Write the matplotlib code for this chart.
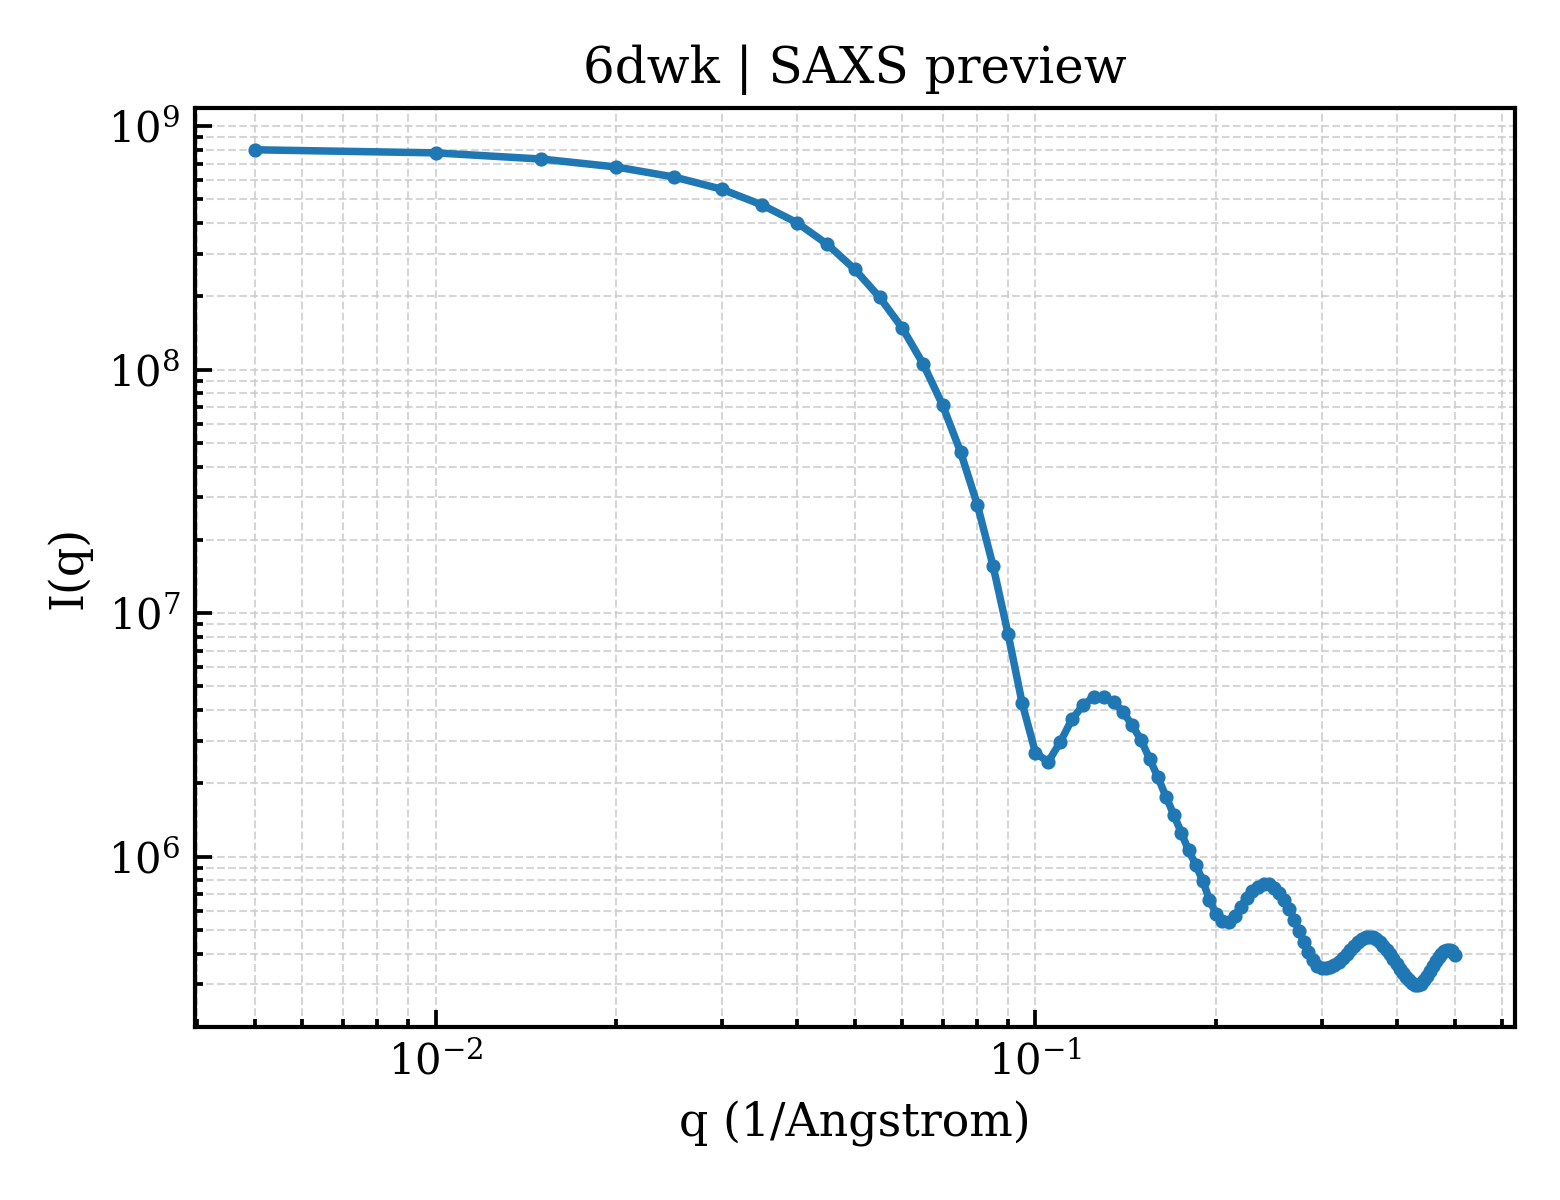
import numpy as np
import matplotlib
matplotlib.use("Agg")
import matplotlib.pyplot as plt

plt.rcParams['font.family'] = ['DejaVu Serif']

# q grid (1/Angstrom), step 0.005
q = np.round(np.arange(1, 101) * 0.005, 3)

# intensities read from the preview
intensity = [
    8.00e8, 7.77e8, 7.33e8, 6.80e8, 6.18e8, 5.51e8, 4.75e8, 4.02e8, 3.27e8, 2.58e8,
    1.98e8, 1.48e8, 1.055e8, 7.16e7, 4.60e7, 2.79e7, 1.56e7, 8.24e6, 4.28e6, 2.67e6,
    2.45e6, 2.96e6, 3.66e6, 4.18e6, 4.53e6, 4.53e6, 4.32e6, 3.93e6, 3.46e6, 3.01e6,
    2.52e6, 2.12e6, 1.765e6, 1.49e6, 1.255e6, 1.061e6, 9.27e5, 7.97e5, 6.66e5, 5.83e5,
    5.46e5, 5.41e5, 5.72e5, 6.23e5, 6.78e5, 7.25e5, 7.53e5, 7.74e5, 7.74e5, 7.46e5,
    7.11e5, 6.66e5, 6.11e5, 5.51e5, 4.97e5, 4.47e5, 4.07e5, 3.77e5, 3.56e5, 3.50e5,
    3.50e5, 3.53e5, 3.60e5, 3.70e5, 3.85e5, 3.99e5, 4.15e5, 4.31e5, 4.47e5, 4.60e5,
    4.67e5, 4.69e5, 4.67e5, 4.58e5, 4.47e5, 4.31e5, 4.15e5, 3.99e5, 3.81e5, 3.63e5,
    3.47e5, 3.34e5, 3.21e5, 3.12e5, 3.03e5, 2.98e5, 2.96e5, 3.01e5, 3.12e5, 3.24e5,
    3.40e5, 3.56e5, 3.74e5, 3.88e5, 3.99e5, 4.11e5, 4.15e5, 4.15e5, 4.11e5, 3.96e5,
]

fig, ax = plt.subplots(figsize=(5.2, 4), dpi=300)
fig.subplots_adjust(left=0.125, right=0.971, bottom=0.144, top=0.91)

ax.plot(q, intensity, color='#1f77b4', lw=1.8, marker='o', markersize=2.4)
ax.set_xscale('log')
ax.set_yscale('log')

ax.set_xlabel("q (1/Angstrom)", fontsize=11)
ax.set_ylabel("I(q)", fontsize=11)
ax.set_title("6dwk | SAXS preview", fontsize=12)

ax.grid(True, which='both', ls='--', lw=0.5, color='#cccccc', alpha=0.8)
ax.tick_params(which='both', direction='in', labelsize=10, width=0.9)
ax.tick_params(which='major', length=4)
ax.tick_params(which='minor', length=2)
for s in ax.spines.values():
    s.set_linewidth(1.0)

fig.savefig("out.png", dpi=300)
